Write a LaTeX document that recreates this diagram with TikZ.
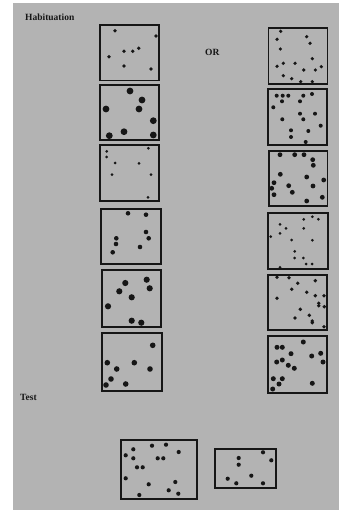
\documentclass[tikz,border=0pt]{standalone}
\usepackage{fontspec}
\setmainfont{Liberation Serif}
\usetikzlibrary{positioning}
\definecolor{paper}{RGB}{179,179,179}
\definecolor{ink}{RGB}{22,22,22}
\newcommand{\spotset}[2]{\foreach \px/\py in {#2} \fill[ink] (\px,\py) circle (#1);}

\begin{document}
\begin{tikzpicture}[x=1pt,y=-1pt]
  \tikzset{
    panel/.style={draw=ink, line width=1.7pt},
    lbl/.style={font=\fontsize{9.5}{10}\selectfont\bfseries, text=ink, inner sep=0pt, anchor=base west}
  }

  % page with grey scan area
  \useasboundingbox (0,0) rectangle (339,510);
  \fill[white] (0,0) rectangle (339,510);
  \fill[paper] (12.7,2.7) rectangle (339,510);

  % Labels
  \node[lbl] (habit) at (25,20.5) {Habituation};
  \node[lbl] (or) at (205,56) {OR};
  \node[lbl] (test) at (20,400.5) {Test};

  % ================= LEFT COLUMN =================
  \draw[panel] (100,24.7) rectangle (159,80.5);
  \spotset{1.9pt}{115/30.7, 156/36, 109/56.7, 124/51.3, 132.7/51.3, 138.7/48.3, 124/66, 151/69}

  \draw[panel] (100,85) rectangle (159.3,140);
  \spotset{3.4pt}{130/91, 142/100, 106/109, 139/109, 153.3/120.7, 124/131.7, 109.3/135.7, 153.3/135}

  \draw[panel] (100,145) rectangle (159.3,201);
  \spotset{1.5pt}{106.7/151.3, 106.7/157, 148.3/148.3, 115/163, 139/163.3, 112/174.7, 151/174.7, 148/197.3}

  \draw[panel] (101,209) rectangle (160.7,264);
  \spotset{2.3pt}{128/213.3, 146/214.7, 146/232, 148.7/238.3, 116.3/238.3, 116/244, 112.7/252.3, 140/247}

  \draw[panel] (101.7,270) rectangle (161,326.7);
  \spotset{3.1pt}{125.3/283, 146.7/279.7, 149.7/288.3, 119.3/291.3, 131.7/297.3, 108/306.3, 131.7/320.7, 141.3/322.7}

  \draw[panel] (101.7,333.3) rectangle (161.7,390.7);
  \spotset{2.8pt}{152.7/345.3, 107.3/362.7, 134.3/362.7, 116.7/369, 150/369, 111/379, 106/385, 125.7/384}

  % ================= RIGHT COLUMN =================
  \draw[panel] (268.5,28.3) rectangle (327.5,84);
  \spotset{1.8pt}{280.7/31.3, 306.7/36.7, 277/39.3, 310/43.3, 280.3/49, 312.3/58.7, 277/66.3, 283.3/63.3, 295/63.3, 303.7/70, 315.3/70, 321.3/66.7, 283.3/75.7, 291.7/78.7, 300.7/81.7, 312.3/81.7}

  \draw[panel] (267.7,89.3) rectangle (327,145);
  \spotset{2pt}{276.7/95.7, 282.7/95.7, 288.3/95.7, 303.3/95.7, 312/94, 282/101.3, 300/101.3, 273.3/107.3, 300/113.7, 315/113.7, 282.3/119.3, 303.3/119.3, 320.7/125.7, 308.3/131, 291/130.3, 291/137, 305.7/142}

  \draw[panel] (268.7,150.7) rectangle (327.5,206);
  \spotset{2.4pt}{280/154.7, 294.7/154.7, 304/154.7, 312.7/159.7, 313.3/165.3, 280.3/174.3, 306.7/177, 323.7/180, 274/182.7, 288.7/185.7, 313/186, 271.7/188.3, 292.3/192.3, 274/194.7, 306.7/201, 322.3/197.3}

  \draw[panel] (268.3,212.7) rectangle (327.7,269.3);
  \spotset{1.5pt}{312.3/216.7, 318.3/219.3, 303.7/219.3, 280/224.3, 286/228.3, 303.7/228.3, 280/233.3, 270.7/236.7, 291.7/240, 312.3/240.3, 294.7/251.3, 294.7/258, 303.3/258, 306/264, 312/264, 280/267.3}

  \draw[panel] (267.7,275) rectangle (327.3,330);
  \spotset{1.9pt}{277/277.3, 289/277.7, 315.3/280.7, 297.7/283.3, 291.7/289.3, 306.7/292.3, 315.3/295.7, 324/295.7, 277/298.3, 318.7/303.3, 318.7/305.7, 324.3/306.7, 300.3/309.3, 309.3/315.3, 295/318, 312.3/321, 312.3/322.7, 324/326.7}

  \draw[panel] (268.3,335.7) rectangle (327.3,392.7);
  \spotset{2.5pt}{303.3/342, 277/347.3, 282.3/347.3, 291/353.7, 311.7/356, 320.7/353.3, 323/362, 276.7/362, 282.3/360, 288.3/365.3, 294.3/368.3, 273.3/378.7, 282.3/378.7, 279/384, 312.3/383.3, 272.7/389}

  % ================= TEST PANELS =================
  \draw[panel] (120.7,440) rectangle (196.7,499.3);
  \spotset{2.1pt}{133.3/449.3, 152/445.7, 166/444.7, 178.7/452, 125.7/455.3, 133.3/458.3, 157.7/458.3, 163.3/458.3, 137/467.3, 142.7/467.3, 125.7/478.3, 148.7/484.3, 175.3/482, 168.7/490.3, 178.3/493.7, 139.3/495}

  \draw[panel] (215,449.3) rectangle (275.7,487.7);
  \spotset{2.1pt}{238.7/458, 238.7/464.7, 263/452.3, 271.3/460.3, 227.7/478.7, 236.3/483.3, 251.3/475.7, 263/483.3}

\end{tikzpicture}
\end{document}
